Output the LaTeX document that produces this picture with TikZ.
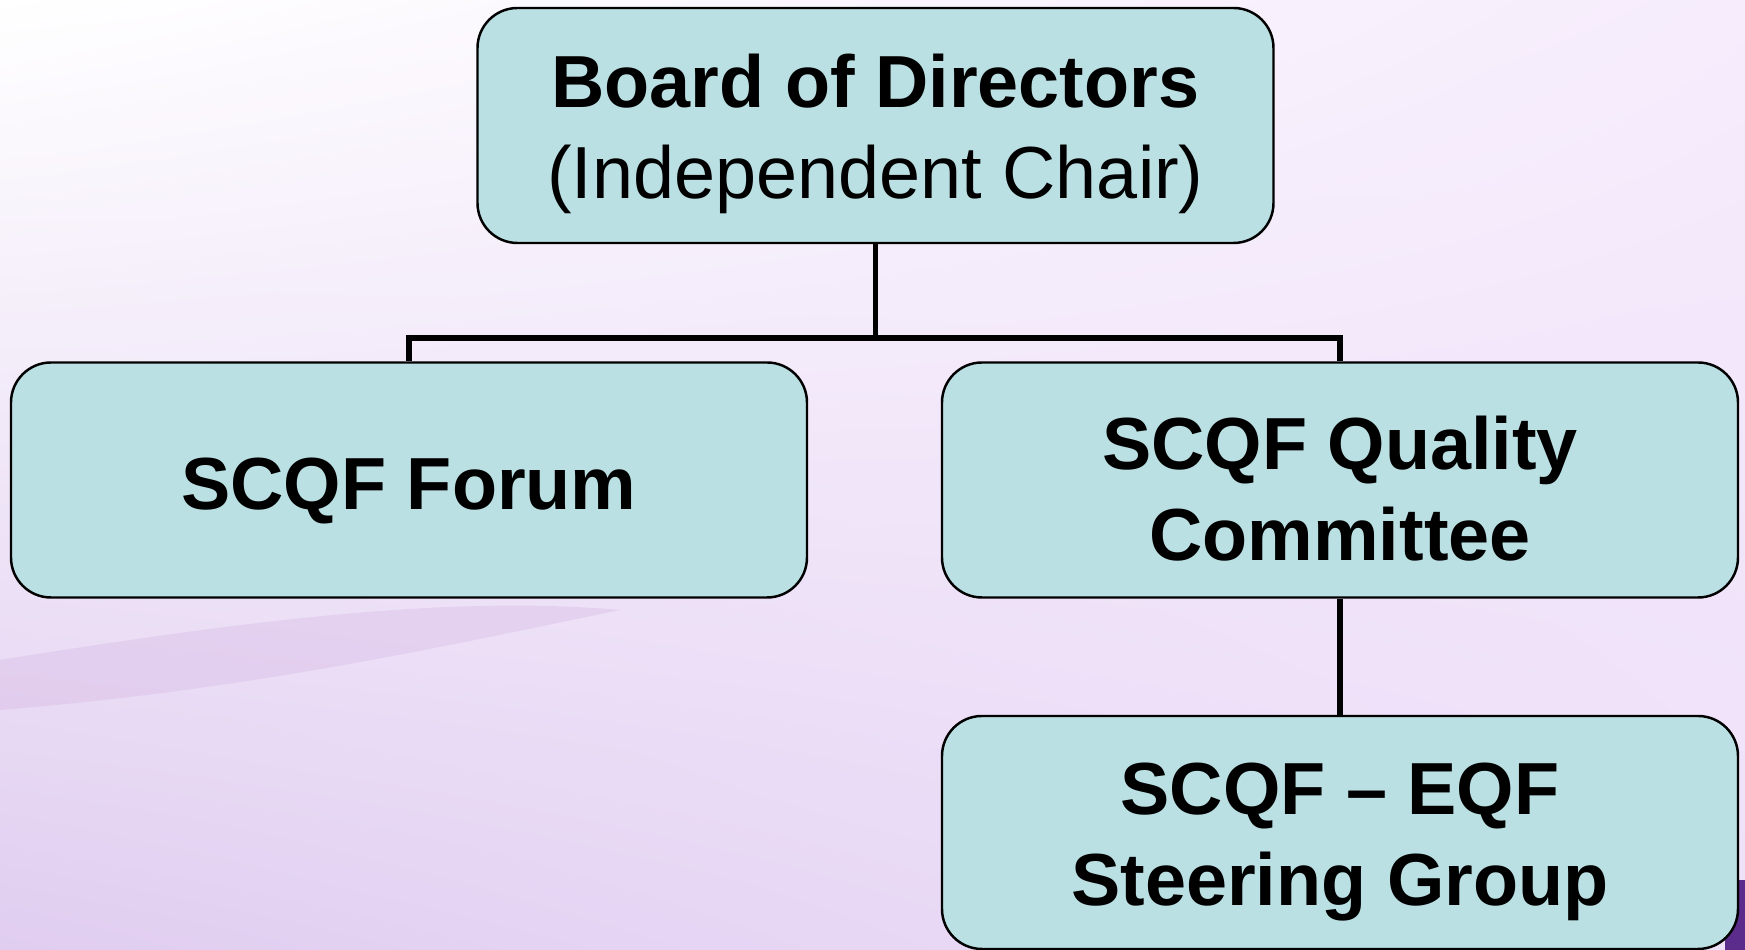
\documentclass[tikz,border=0pt]{standalone}
\usepackage{fontspec}
\setmainfont{Liberation Sans}
\definecolor{boxteal}{RGB}{186, 224, 227}
\definecolor{lavtop}{RGB}{246, 236, 252}
\definecolor{lavlow}{RGB}{224, 205, 240}
\definecolor{lavmid}{RGB}{238, 224, 249}
\definecolor{logopurple}{RGB}{92, 44, 140}
\usetikzlibrary{positioning, calc, shadings}

\begin{document}
\begin{tikzpicture}[
    orgbox/.style={draw=black, line width=0.7pt, fill=boxteal, rounded corners=0.4cm,
      minimum width=7.96cm, minimum height=2.35cm, align=center, inner sep=0pt,
      text height=21pt, font=\fontsize{21}{26}\selectfont\bfseries},
    twoline/.style={text height=46pt},
    link/.style={line width=1.5pt, draw=black}
  ]
  % Background
  \useasboundingbox (0,0) rectangle (17.45,9.5);
  \shade[upper left=white, upper right=lavtop, lower left=lavlow, lower right=lavmid]
    (0,0) rectangle (17.45,9.5);
  \fill[lavlow!85!violet, opacity=0.3]
    (0,2.9) .. controls (2.5,3.3) and (4.5,3.55) .. (6.2,3.4)
    .. controls (4.5,3.05) and (2.5,2.6) .. (0,2.4) -- cycle;
  \fill[logopurple] (17.25,0) rectangle (17.45,0.7);

  % Boxes
  \node[orgbox, twoline] (board) at (8.755, 8.245) {Board of Directors\\{\mdseries (Independent Chair)}};
  \node[orgbox] (forum) at (4.09, 4.70) {SCQF Forum};
  \node[orgbox, twoline] (quality) at (13.40, 4.70) {SCQF Quality\\Committee};
  \node[orgbox, twoline, minimum height=2.33cm] (eqf) at (13.40, 1.175) {SCQF -- EQF\\Steering Group};

  % Connectors
  \coordinate (bus) at (8.755, 6.12);
  \draw[link] (board.south) -- (bus);
  \draw[link] (forum.north) |- (bus) -| (quality.north);
  \draw[link] (quality.south) -- (eqf.north);
\end{tikzpicture}
\end{document}
